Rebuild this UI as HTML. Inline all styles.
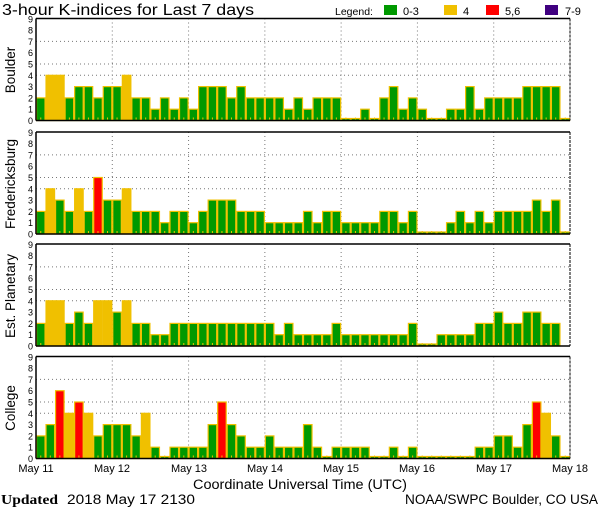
<!DOCTYPE html>
<html><head><meta charset="utf-8"><style>
body{margin:0;background:#fff;}
svg text{font-family:"Liberation Sans",sans-serif;fill:#000;}
</style></head><body>
<svg id="s" width="600" height="510" xmlns="http://www.w3.org/2000/svg">
<text x="2" y="15" font-size="16" textLength="252" lengthAdjust="spacingAndGlyphs">3-hour K-indices for Last 7 days</text>
<text x="335" y="15" font-size="10.5">Legend:</text>
<rect x="384" y="5" width="13" height="10" fill="#009900"/><text x="403" y="15" font-size="11">0-3</text>
<rect x="444" y="5" width="13" height="10" fill="#f0c000"/><text x="463" y="15" font-size="11">4</text>
<rect x="486" y="5" width="13" height="10" fill="#ff0000"/><text x="505" y="15" font-size="11">5,6</text>
<rect x="545" y="5" width="13" height="10" fill="#400080"/><text x="565" y="15" font-size="11">7-9</text>
<g id="g"></g>
<g font-size="13.5">
<text transform="translate(15,70) rotate(-90)" text-anchor="middle">Boulder</text>
<text transform="translate(15,184) rotate(-90)" text-anchor="middle">Fredericksburg</text>
<text transform="translate(15,296) rotate(-90)" text-anchor="middle">Est. Planetary</text>
<text transform="translate(15,408) rotate(-90)" text-anchor="middle">College</text>
</g>
<g id="ticks" font-size="9" text-anchor="end"></g>
<g font-size="11" text-anchor="middle">
<text x="36" y="472">May 11</text><text x="112" y="472">May 12</text><text x="189" y="472">May 13</text><text x="265" y="472">May 14</text><text x="341" y="472">May 15</text><text x="417" y="472">May 16</text><text x="494" y="472">May 17</text><text x="570" y="472">May 18</text>
</g>
<text x="193" y="489" font-size="13.5" textLength="214" lengthAdjust="spacingAndGlyphs">Coordinate Universal Time (UTC)</text>
<text x="1" y="504" font-size="14" font-weight="bold" style="font-family:'Liberation Serif',serif" textLength="57" lengthAdjust="spacingAndGlyphs">Updated</text>
<text x="67" y="504" font-size="13.5" textLength="128" lengthAdjust="spacingAndGlyphs">2018 May 17 2130</text>
<text x="405" y="504" font-size="13.5" textLength="193" lengthAdjust="spacingAndGlyphs">NOAA/SWPC Boulder, CO USA</text>
</svg>
<script>
var data=[
[2,4,4,2,3,3,2,3, 3,4,2,2,1,2,1,2, 1,3,3,3,2,3,2,2, 2,2,1,2,1,2,2,2, 0,0,1,0,2,3,1,2, 1,0,0,1,1,3,1,2, 2,2,2,3,3,3,3,0],
[2,4,3,2,4,2,5,3, 3,4,2,2,2,1,2,2, 1,2,3,3,3,2,2,2, 1,1,1,1,2,1,2,2, 1,1,1,1,2,2,1,2, 0,0,0,1,2,1,2,1, 2,2,2,2,3,2,3,0],
[2,4,4,2,3,2,4,4, 3,4,2,2,1,1,2,2, 2,2,2,2,2,2,2,2, 2,1,2,1,1,1,1,2, 1,1,1,1,1,1,1,2, 0,0,1,1,1,1,2,2, 3,2,2,3,3,2,2,-1],
[2,3,6,4,5,4,2,3, 3,3,2,4,1,0,1,1, 1,1,3,5,3,2,1,1, 2,1,1,1,3,1,0,1, 1,1,1,0,0,1,0,1, 0,0,0,0,0,0,1,1, 2,2,1,3,5,4,2,0]];
var bots=[120.5,234,346,458.5],U=11.3,L=36,R=570,W=(R-L)/56,h='',t='';
data.forEach(function(d,p){var b=bots[p],top=b-102;
 [4,5,7].forEach(function(k){var y=b-k*U;h+='<line x1="'+L+'" y1="'+y+'" x2="'+R+'" y2="'+y+'" stroke="#777" stroke-dasharray="1,3"/>';});
 for(var i=1;i<7;i++){var x=L+i*(R-L)/7;h+='<line x1="'+x+'" y1="'+top+'" x2="'+x+'" y2="'+b+'" stroke="#777" stroke-dasharray="1,3"/>';}
 d.forEach(function(v,i){if(v<0)return;var x=L+i*W,hh=v==0?2:v*U;var c=v<=3?'#009900':v==4?'#f0c000':v<=6?'#ff0000':'#400080';
  h+='<rect x="'+(x+0.5)+'" y="'+(b-hh)+'" width="'+(W-1)+'" height="'+hh+'" fill="'+c+'" stroke="#f0c000" stroke-width="1.2"/>';
  h+='<rect x="'+(x+W/2-0.5)+'" y="'+(b-3)+'" width="1" height="2" fill="#f0c000"/>';});
 h+='<line x1="'+L+'" y1="'+top+'" x2="'+R+'" y2="'+top+'" stroke="#000" stroke-width="1.5"/>';
 h+='<line x1="'+L+'" y1="'+top+'" x2="'+L+'" y2="'+b+'" stroke="#000" stroke-width="1.5"/>';
 h+='<line x1="'+L+'" y1="'+b+'" x2="'+R+'" y2="'+b+'" stroke="#000" stroke-width="1.5"/>';
 h+='<line x1="'+R+'" y1="'+top+'" x2="'+R+'" y2="'+b+'" stroke="#000" stroke-width="1" stroke-dasharray="3,1"/>';
 for(var k=0;k<=9;k++){t+='<text x="33" y="'+(b-k*U+3.5)+'">'+k+'</text>';}
});
document.getElementById('g').innerHTML=h;document.getElementById('ticks').innerHTML=t;
</script>
</body></html>
